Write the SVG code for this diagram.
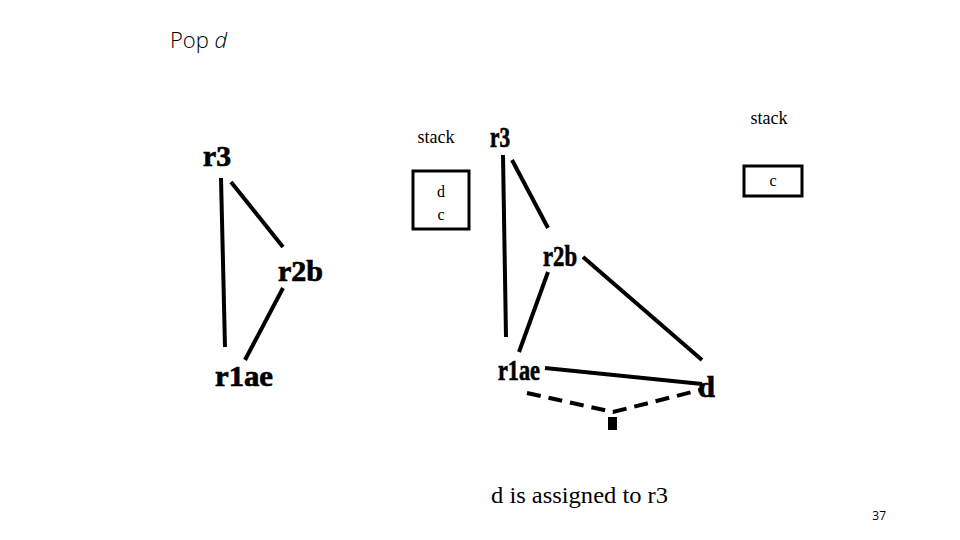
<svg xmlns="http://www.w3.org/2000/svg" width="960" height="540" viewBox="0 0 960 540">
<style>
.lbl{font-family:'Liberation Serif','Times New Roman',Tinos,serif;font-weight:bold;font-size:30px;fill:#000;stroke:#000;stroke-width:0.7}
.ser{font-family:'Liberation Serif','Times New Roman',Tinos,serif;fill:#000}
.ln{stroke:#000;stroke-width:4;fill:none;stroke-linecap:butt}
.box{fill:#fff;stroke:#000;stroke-width:3}
</style>
<rect width="960" height="540" fill="#fff"/>
<text x="170" y="48" font-family="'Open Sans','Noto Sans',sans-serif" font-weight="300" font-size="22" fill="#000">Pop <tspan font-style="italic">d</tspan></text>

<g id="connectors">
  <line class="ln" x1="221" y1="178" x2="225" y2="347"/>
  <line class="ln" x1="231" y1="182" x2="283" y2="247"/>
  <line class="ln" x1="283" y1="288" x2="245" y2="360"/>
  <line class="ln" x1="503" y1="155" x2="506" y2="337"/>
  <line class="ln" x1="512" y1="160" x2="548" y2="228"/>
  <line class="ln" x1="548" y1="272" x2="519" y2="352"/>
  <line class="ln" x1="583" y1="257" x2="702" y2="360"/>
  <line class="ln" stroke-width="5" x1="545" y1="368" x2="702" y2="384"/>
  <polyline class="ln" stroke-width="3" stroke-dasharray="14,8" points="527,393 613,412 700,390"/>
  <rect x="608" y="417" width="9" height="13" fill="#000"/>
</g>

<g id="left-r3"><text class="lbl" x="203" y="166" textLength="28" lengthAdjust="spacingAndGlyphs">r3</text></g>
<g id="left-r2b"><text class="lbl" x="278" y="281" textLength="45" lengthAdjust="spacingAndGlyphs">r2b</text></g>
<g id="left-r1ae"><text class="lbl" x="215" y="386" textLength="58" lengthAdjust="spacingAndGlyphs">r1ae</text></g>

<g id="stack1">
  <text class="ser" x="436" y="143" font-size="18" text-anchor="middle">stack</text>
  <rect class="box" x="413" y="171" width="56" height="58"/>
  <text class="ser" x="441" y="197" font-size="16" text-anchor="middle">d</text>
  <text class="ser" x="441" y="220" font-size="16" text-anchor="middle">c</text>
</g>

<g id="right-r3"><text class="lbl" x="490" y="147" textLength="20" lengthAdjust="spacingAndGlyphs">r3</text></g>
<g id="right-r2b"><text class="lbl" x="543" y="266" textLength="34" lengthAdjust="spacingAndGlyphs">r2b</text></g>
<g id="right-r1ae"><text class="lbl" x="498" y="380" textLength="42" lengthAdjust="spacingAndGlyphs">r1ae</text></g>
<g id="right-d"><text class="lbl" x="698" y="397" textLength="17" lengthAdjust="spacingAndGlyphs">d</text></g>

<g id="stack2">
  <text class="ser" x="769" y="124" font-size="18" text-anchor="middle">stack</text>
  <rect class="box" x="744" y="166" width="58" height="30"/>
  <text class="ser" x="773" y="186" font-size="16" text-anchor="middle">c</text>
</g>

<text class="ser" x="491" y="503" font-size="24" textLength="177" lengthAdjust="spacingAndGlyphs">d is assigned to r3</text>
<text x="886" y="520" font-family="'Open Sans','Noto Sans',sans-serif" font-size="12" text-anchor="end" fill="#000">37</text>
</svg>
